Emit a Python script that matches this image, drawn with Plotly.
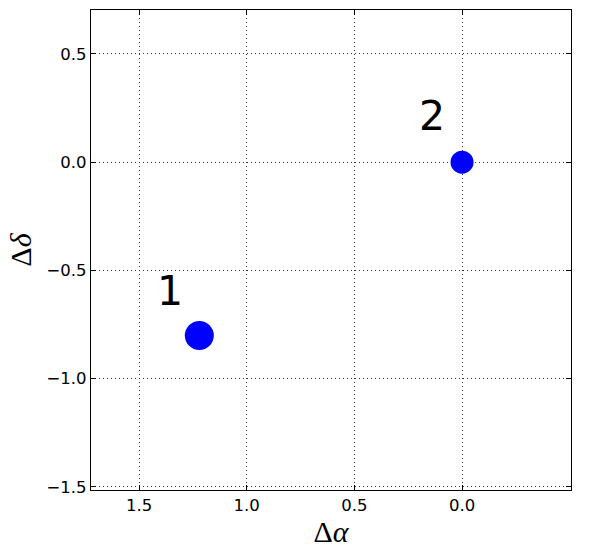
import plotly.graph_objects as go

# Data
labels = ["1", "2"]
d_alpha = [1.22, 0.0]
d_delta = [-0.80, 0.0]
marker_sizes = [29, 23]
label_x = [1.358, 0.139]
label_y = [-0.595, 0.212]

x_range = [1.723, -0.506]
y_range = [-1.514, 0.703]
x_ticks = [1.5, 1.0, 0.5, 0.0]
y_ticks = [0.5, 0.0, -0.5, -1.0, -1.5]

fig = go.Figure()
fig.add_trace(go.Scatter(
    x=d_alpha, y=d_delta, mode="markers",
    marker=dict(color="#0000ff", size=marker_sizes, opacity=1, line=dict(width=0)),
    showlegend=False, hoverinfo="skip",
))

for t, x, y in zip(labels, label_x, label_y):
    fig.add_annotation(x=x, y=y, text=t, showarrow=False,
                       xanchor="center", yanchor="middle",
                       font=dict(family="DejaVu Sans", size=41, color="black"))

axis_common = dict(
    showline=True, linecolor="black", linewidth=1.2, mirror="ticks",
    ticks="inside", ticklen=5, tickwidth=1, tickcolor="black",
    showgrid=True, gridcolor="#333333", gridwidth=1, griddash="1px,3px",
    zeroline=False,
    tickfont=dict(family="DejaVu Sans", size=16.5, color="black"),
)

fig.update_xaxes(range=x_range, tickvals=x_ticks,
                 ticktext=[f"{v:.1f}" for v in x_ticks],
                 title=dict(text="Δ<i>α</i>", standoff=6,
                            font=dict(family="Liberation Serif", size=30, color="black")),
                 **axis_common)
fig.update_yaxes(range=y_range, tickvals=y_ticks,
                 ticktext=[f"{v:.1f}".replace("-", "−") for v in y_ticks],
                 title=dict(text="Δ<i>δ</i>", standoff=6,
                            font=dict(family="Liberation Serif", size=30, color="black")),
                 **axis_common)

fig.update_layout(
    width=600, height=558,
    margin=dict(l=91, r=29, t=10, b=68),
    paper_bgcolor="white", plot_bgcolor="white",
)

fig.write_html("out.html", config={"displayModeBar": False},
               post_script="document.body.style.margin='0';")
